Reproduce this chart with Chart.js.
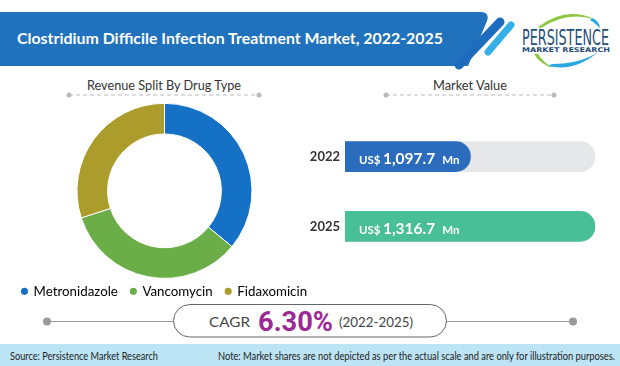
<!DOCTYPE html>
<html><head><meta charset="utf-8">
<script src="https://cdn.jsdelivr.net/npm/chart.js@4.4.1/dist/chart.umd.min.js"></script>
<style>
html,body{margin:0;padding:0;background:#fff;width:620px;height:366px;overflow:hidden}
#wrap{position:relative;width:620px;height:366px}
svg{position:absolute;left:0;top:0}
canvas{position:absolute}
#donut{left:0;top:95px;width:329px;height:213px}
#bars{left:300px;top:109px;width:320px;height:165px}
</style></head><body>
<div id="wrap">
<svg width="620" height="366" xmlns="http://www.w3.org/2000/svg">
  <!-- title band -->
  <path d="M0 12 H480 Q490 12 487 21 L468 66 H0 Z" fill="#1f72bb"/>
  <line x1="459" y1="65" x2="500" y2="22" stroke="#1e6cbd" stroke-width="9" stroke-linecap="round"/>
  <line x1="488" y1="52" x2="511" y2="25" stroke="#34b0e6" stroke-width="7" stroke-linecap="round"/>
  <text x="17" y="44" fill="#fff" font-family="Lato" font-weight="bold" font-size="16" textLength="426" lengthAdjust="spacingAndGlyphs">Clostridium Difficile Infection Treatment Market, 2022-2025</text>
  <!-- logo -->
  <path d="M538 27 Q566 6 594 19 Q566 11 541 28 Z" fill="#8dc63f"/>
  <path d="M592 18 Q600 21 600 29 Q597 24 590 20 Z" fill="#2aa8e0"/>
  <path d="M534 54 Q540 64 553 68 Q543 62 538 54 Z" fill="#8dc63f"/>
  <path d="M548 66 Q575 72 598 52 Q580 64 552 64 Z" fill="#2aa8e0"/>
  <text x="522" y="44.5" fill="#1f4e79" font-family="DejaVu Sans Condensed, DejaVu Sans" font-size="21" textLength="87" lengthAdjust="spacingAndGlyphs">PERSISTENCE</text>
  <text x="522" y="52" fill="#1f4e79" font-family="DejaVu Sans" font-weight="bold" font-size="6.5" textLength="88" lengthAdjust="spacingAndGlyphs">MARKET RESEARCH</text>
  <!-- section headers -->
  <text x="164" y="90" fill="#333" font-family="Lato" font-size="14" text-anchor="middle" textLength="154" lengthAdjust="spacingAndGlyphs">Revenue Split By Drug Type</text>
  <line x1="69" y1="95" x2="259" y2="95" stroke="#bbb" stroke-width="1" stroke-dasharray="4 3"/>
  <circle cx="69" cy="95" r="2.5" fill="#bbb"/><circle cx="259" cy="95" r="2.5" fill="#bbb"/>
  <text x="470" y="90" fill="#333" font-family="Lato" font-size="14" text-anchor="middle" textLength="74" lengthAdjust="spacingAndGlyphs">Market Value</text>
  <line x1="386" y1="95" x2="554" y2="95" stroke="#bbb" stroke-width="1" stroke-dasharray="4 3"/>
  <circle cx="386" cy="95" r="2.5" fill="#bbb"/><circle cx="554" cy="95" r="2.5" fill="#bbb"/>
  <!-- CAGR -->
  <line x1="47" y1="321.5" x2="173" y2="321.5" stroke="#9a9a9a" stroke-width="1.2"/>
  <line x1="447" y1="321.5" x2="573" y2="321.5" stroke="#9a9a9a" stroke-width="1.2"/>
  <circle cx="47" cy="321.5" r="4" fill="#9a9a9a"/><circle cx="573" cy="321.5" r="4" fill="#9a9a9a"/>
  <rect x="173.5" y="304.5" width="273" height="32.5" rx="16.25" fill="#fff" stroke="#666" stroke-width="1"/>
  <text x="209" y="326.7" fill="#444" font-family="Lato" font-size="14" textLength="41" lengthAdjust="spacingAndGlyphs">CAGR</text>
  <text x="258" y="331" fill="#9c2a96" font-family="Roboto" font-weight="bold" font-size="28.5" textLength="75" lengthAdjust="spacingAndGlyphs" id="cagrVal"></text>
  <text x="339" y="327" fill="#444" font-family="Lato" font-size="14" textLength="74" lengthAdjust="spacingAndGlyphs" id="cagrPeriod"></text>
  <!-- footer -->
  <rect x="0" y="344" width="620" height="22" fill="#bde4f4"/>
  <text x="10" y="359.5" fill="#222" font-family="Lato" font-size="11" textLength="148" lengthAdjust="spacingAndGlyphs">Source: Persistence Market Research</text>
  <text x="218" y="359.5" fill="#222" font-family="Lato" font-size="11" textLength="397" lengthAdjust="spacingAndGlyphs">Note: Market shares are not depicted as per the actual scale and are only for illustration purposes.</text>
</svg>
<canvas id="donut" width="329" height="213"></canvas>
<canvas id="bars" width="320" height="165"></canvas>
</div>
<script>
// ---- data ----
const drugTypes = ['Metronidazole', 'Vancomycin', 'Fidaxomicin'];
const drugShares = [36, 34, 30];
const drugColors = ['#1471c6', '#6bae47', '#ab9c2b'];
const years = ['2022', '2025'];
const marketValues = [1097.7, 1316.7];
const yearColors = ['#2b6dbc', '#49bf98'];
const cagrValue = '6.30%';
const cagrPeriod = '(2022-2025)';
const valueAxisMin = 877; // illustrative (not-to-scale) axis start

document.getElementById('cagrVal').textContent = cagrValue;
document.getElementById('cagrPeriod').textContent = cagrPeriod;

// ---- donut ----
new Chart(document.getElementById('donut'), {
  type: 'doughnut',
  data: {
    labels: drugTypes,
    datasets: [{
      data: drugShares,
      backgroundColor: drugColors,
      borderColor: '#ffffff',
      borderWidth: 1,
      radius: 87.5,
      cutout: '65%',
      clip: false
    }]
  },
  options: {
    responsive: false,
    animation: false,
    events: [],
    layout: { padding: { top: 15, left: 0, right: 0, bottom: 0 } },
    plugins: {
      tooltip: { enabled: false },
      legend: {
        display: true,
        position: 'bottom',
        labels: {
          usePointStyle: true,
          pointStyle: 'circle',
          boxWidth: 5,
          boxHeight: 5,
          padding: 13,
          color: '#333',
          font: { family: 'Lato', size: 13.3 },
          generateLabels(chart) {
            return chart.data.labels.map((l, i) => ({
              text: l, fillStyle: drugColors[i], strokeStyle: drugColors[i],
              lineWidth: 0, pointStyle: 'circle', index: i, hidden: false
            }));
          }
        }
      }
    }
  }
});

// ---- market value bars ----
function fmt(v) {
  const s = v.toFixed(1);
  const [ip, dp] = s.split('.');
  return ip.replace(/\B(?=(\d{3})+(?!\d))/g, ',') + '.' + dp;
}
const valueLabels = {
  id: 'valueLabels',
  afterDraw(chart) {
    const ctx = chart.ctx;
    const xs = chart.scales.x, ys = chart.scales.y;
    marketValues.forEach((v, i) => {
      const left = xs.getPixelForValue(valueAxisMin);
      const y = ys.getPixelForValue(i) + 7.5;
      ctx.save();
      ctx.fillStyle = '#ffffff';
      ctx.textBaseline = 'alphabetic';
      ctx.textAlign = 'left';
      ctx.font = 'bold 11.5px Lato, sans-serif';
      ctx.fillText('US$', left + 14, y);
      ctx.font = 'bold 15.5px Lato, sans-serif';
      const num = fmt(v);
      ctx.fillText(num, left + 38, y);
      const w = ctx.measureText(num).width;
      ctx.font = 'bold 11.5px Lato, sans-serif';
      ctx.fillText('Mn', left + 38 + w + 7, y);
      ctx.restore();
    });
  }
};
const scaleMax = Math.max(...marketValues);
new Chart(document.getElementById('bars'), {
  type: 'bar',
  data: {
    labels: years,
    datasets: [
      { data: years.map(() => scaleMax), backgroundColor: '#e6e7e9', order: 2,
        borderRadius: 15, borderSkipped: 'start', barThickness: 30, grouped: false },
      { data: marketValues, backgroundColor: yearColors, order: 1,
        borderRadius: 15, borderSkipped: 'start', barThickness: 30, grouped: false }
    ]
  },
  options: {
    indexAxis: 'y',
    responsive: false,
    animation: false,
    events: [],
    layout: { padding: { left: 0, right: 25, top: 0, bottom: 0 } },
    plugins: { legend: { display: false }, tooltip: { enabled: false } },
    scales: {
      x: { display: false, min: valueAxisMin, max: scaleMax },
      y: {
        grid: { display: false, drawTicks: false },
        border: { display: false },
        ticks: { color: '#333', padding: 5, font: { family: 'Lato', weight: 'bold', size: 13 } },
        afterFit(s) { s.width = 45; }
      }
    }
  },
  plugins: [valueLabels]
});
</script>
</body></html>
